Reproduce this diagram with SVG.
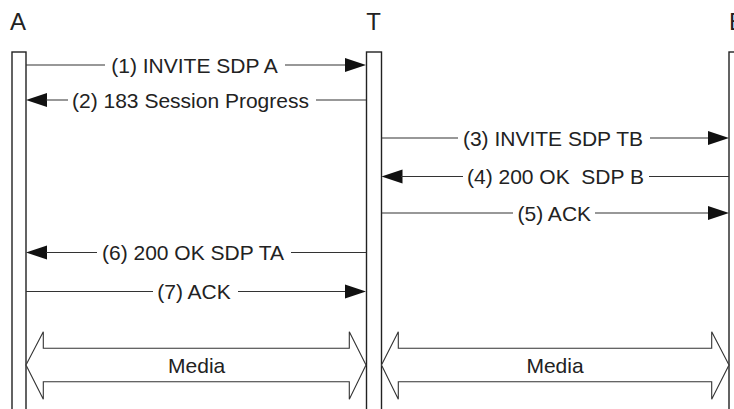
<svg xmlns="http://www.w3.org/2000/svg" width="734" height="409" viewBox="0 0 734 409">
<defs>
<style>
.lbl{font-family:"Liberation Sans",Arial,sans-serif;font-size:21px;fill:#222;text-anchor:middle}
.hdr{font-family:"Liberation Sans",Arial,sans-serif;font-size:24px;fill:#222}
.ll{fill:#fff;stroke:#222;stroke-width:1.4}
.msg{stroke:#333;stroke-width:1.1;fill:none}
.head{fill:#111;stroke:none}
.media{fill:#fff;stroke:#333;stroke-width:1.1}
</style>
</defs>
<rect width="734" height="409" fill="#fff"/>
<g id="A">
<text class="hdr" x="10" y="29.5">A</text>
<rect class="ll" x="12" y="52" width="14" height="370"/>
</g>
<g id="T">
<text class="hdr" x="373.5" y="29.5" text-anchor="middle">T</text>
<rect class="ll" x="366.5" y="52" width="15" height="370"/>
</g>
<g id="B">
<text class="hdr" x="729" y="29.5">B</text>
<rect class="ll" x="729" y="52" width="15" height="370"/>
</g>
<g id="connectors">
<!-- 1 -->
<path class="msg" d="M26,65H105M285,65H346"/>
<polygon class="head" points="345,58 366,65 345,72"/>
<text class="lbl" x="194.5" y="72.5">(1) INVITE SDP A</text>
<!-- 2 -->
<polygon class="head" points="47,93 26,100 47,107"/>
<path class="msg" d="M46,100H68M316,100H366"/>
<text class="lbl" x="190.5" y="107.5">(2) 183 Session Progress</text>
<!-- 3 -->
<path class="msg" d="M381.5,138H458M650,138H708"/>
<polygon class="head" points="708,131 729,138 708,145"/>
<text class="lbl" x="553" y="145.5">(3) INVITE SDP TB</text>
<!-- 4 -->
<polygon class="head" points="402.5,169.5 381.5,176.5 402.5,183.5"/>
<path class="msg" d="M401,176.5H463M649,176.5H729"/>
<text class="lbl" x="555.5" y="184" xml:space="preserve">(4) 200 OK  SDP B</text>
<!-- 5 -->
<path class="msg" d="M381.5,213H513M595,213H708"/>
<polygon class="head" points="708,206 729,213 708,220"/>
<text class="lbl" x="554.3" y="220.5">(5) ACK</text>
<!-- 6 -->
<polygon class="head" points="47,245.5 26,252.5 47,259.5"/>
<path class="msg" d="M46,252.5H97M291,252.5H366"/>
<text class="lbl" x="193" y="260">(6) 200 OK SDP TA</text>
<!-- 7 -->
<path class="msg" d="M26,291.5H153M238,291.5H346"/>
<polygon class="head" points="345,284.5 366,291.5 345,298.5"/>
<text class="lbl" x="194" y="299">(7) ACK</text>
<!-- media 1 -->
<polygon class="media" points="26,365 43.3,331.7 43.3,348.3 349.3,348.3 349.3,331.7 366,365 349.3,399.3 349.3,381.7 43.3,381.7 43.3,399.3"/>
<text class="lbl" x="196.7" y="372.5">Media</text>
<!-- media 2 -->
<polygon class="media" points="381.5,365 398.3,331.7 398.3,348.3 711.7,348.3 711.7,331.7 729,365 711.7,399.3 711.7,381.7 398.3,381.7 398.3,399.3"/>
<text class="lbl" x="555" y="372.5">Media</text>
</g>
</svg>
